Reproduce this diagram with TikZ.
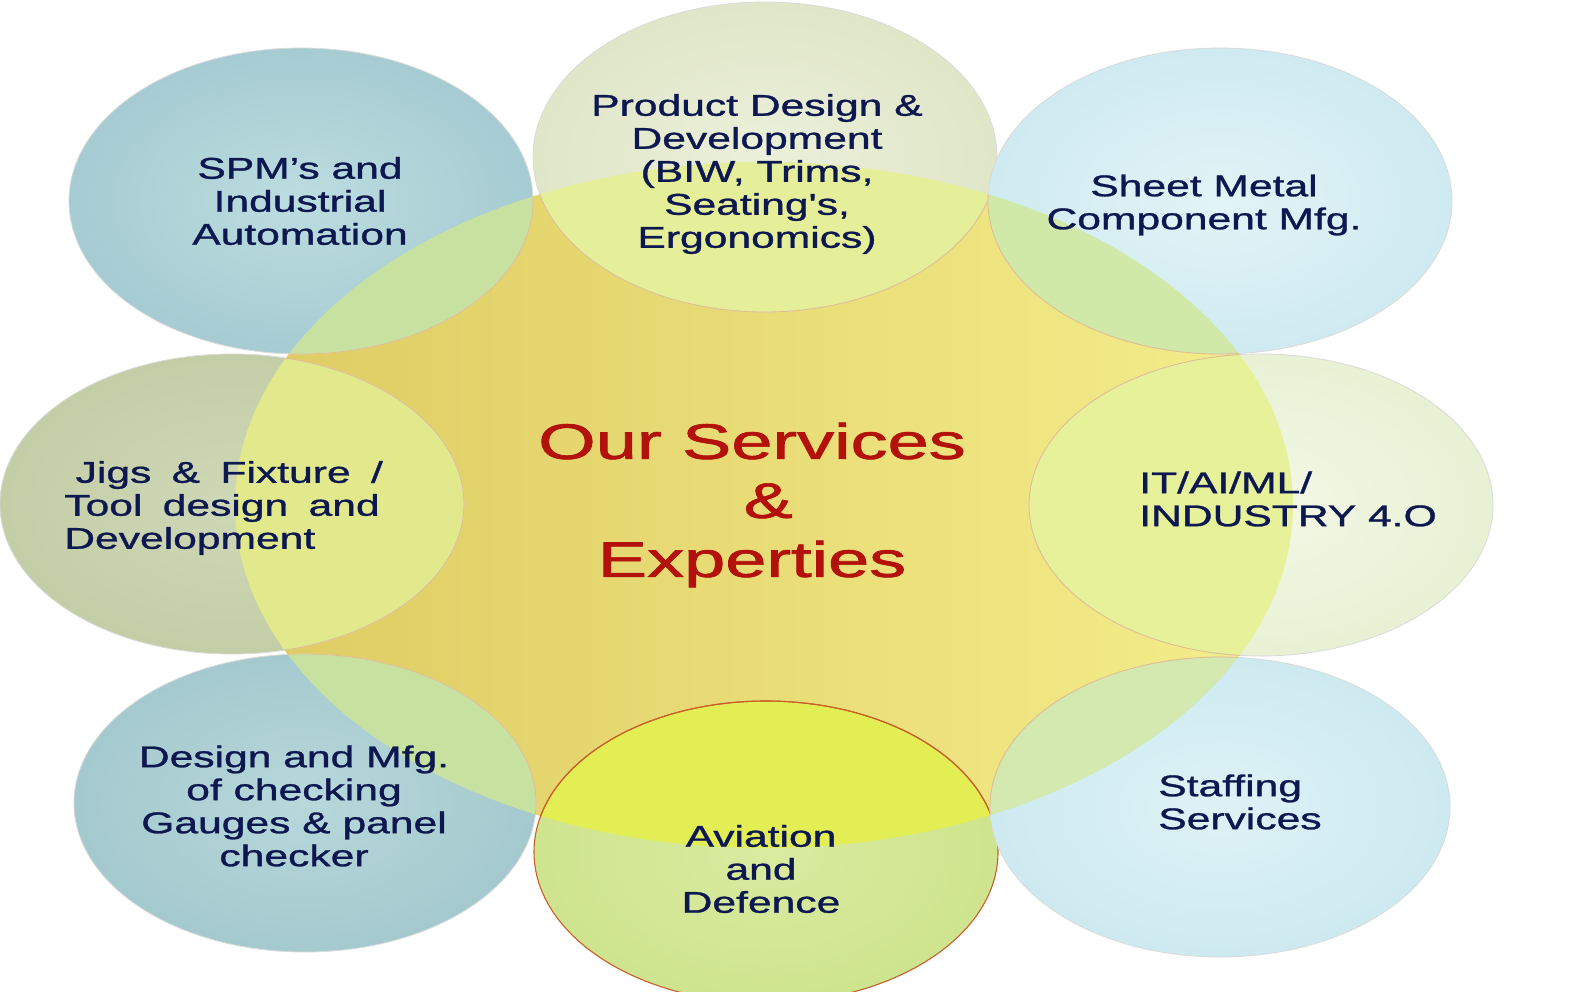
\documentclass[tikz,border=0pt]{standalone}
\usepackage{fontspec}
\setmainfont{Liberation Sans}
\newfontfamily\labfont{Liberation Sans}[FakeBold=0.9]
\newfontfamily\ttlfont{Liberation Sans}[FakeBold=1.2]
\usetikzlibrary{shapes.geometric}
\definecolor{navy}{HTML}{0E1850}
\definecolor{titlered}{HTML}{B2110C}
\definecolor{cenL}{HTML}{DECB62}
\definecolor{cenR}{HTML}{F4EE8C}
\definecolor{edgeIn}{HTML}{E2BE84}
\definecolor{edgeOut}{HTML}{DADADA}
\definecolor{aviEdge}{HTML}{C8602A}
\newcommand\mysat[9]{%
  % #1 x, #2 y, #3 rx, #4 ry, #5 inner, #6 outer, #7 overlap, #8 edge outside, #9 edge inside
  \definecolor{satIn}{HTML}{#5}\definecolor{satOut}{HTML}{#6}\definecolor{satOv}{HTML}{#7}%
  \shade[inner color=satIn, outer color=satOut] (#1,#2) ellipse [x radius=#3pt, y radius=#4pt];
  \begin{scope}
    \clip (#1,#2) ellipse [x radius=#3pt, y radius=#4pt];
    \fill[satOv] (764,505) ellipse [x radius=529pt, y radius=343pt];
  \end{scope}
  \draw[#8] (#1,#2) ellipse [x radius=#3pt, y radius=#4pt];
  \begin{scope}
    \clip (764,505) ellipse [x radius=529pt, y radius=343pt];
    \draw[#9] (#1,#2) ellipse [x radius=#3pt, y radius=#4pt];
  \end{scope}}
\begin{document}
\begin{tikzpicture}[x=1pt,y=-1pt,
  lab/.style={text=navy, font=\labfont\fontsize{30}{33}\selectfont, xscale=1.42, inner sep=0pt, align=center},
  labl/.style={lab, align=left, anchor=west},
  ttl/.style={text=titlered, font=\ttlfont\fontsize{50}{59}\selectfont, xscale=1.48, inner sep=0pt, align=center},
  eo/.style={draw=edgeOut, line width=0.8pt},
  ei/.style={draw=edgeIn, line width=0.8pt},
  ea/.style={draw=aviEdge, line width=1.1pt}]
\useasboundingbox (0,0) rectangle (1586,992);
\fill[white] (0,0) rectangle (1586,992);
% central ellipse
\shade[left color=cenL, right color=cenR] (764,505) ellipse [x radius=529pt, y radius=343pt];
% satellites
\mysat{301}{201}{232}{153}{BCDDE0}{A6CBD2}{C6E1A0}{eo}{ei}
\mysat{765}{157}{232}{155}{EBF0DA}{E0E6C8}{E5EE98}{eo}{ei}
\mysat{1220}{201}{232}{153}{E2F4F7}{CFEAF1}{D0E8A8}{eo}{ei}
\mysat{232}{504}{232}{150}{CFD8B6}{C3CDA6}{E1E98C}{eo}{ei}
\mysat{1261}{505}{232}{151}{F3F8E6}{E8F1D4}{E7F19A}{eo}{ei}
\mysat{305}{803}{231}{149}{B8D8DB}{A4C9CE}{C6E1A0}{eo}{ei}
\mysat{766}{852}{232}{151}{D9EBA0}{CFE48E}{E3EE55}{ea}{ea}
\mysat{1220}{807}{230}{150}{DEF2F6}{CDEAF0}{D3E9AF}{eo}{ei}
% labels
\node[ttl] (title) at (752,505) {Our Services\\\hspace*{22pt}\&\\Experties};
\node[lab] (spm) at (300,201) {SPM’s and\\Industrial\\Automation};
\node[lab] (prod) at (757,174) {Product Design \&\\Development\\(BIW, Trims,\\Seating\textquotesingle s,\\Ergonomics)};
\node[lab] (sheet) at (1204,205) {Sheet Metal\\Component Mfg.};
\node[labl] (jigs) at (64,508) {\hspace*{8pt}Jigs\hspace{6pt} \&\hspace{6pt} Fixture\hspace{6pt} /\\Tool\hspace{6pt} design\hspace{6pt} and\\Development};
\node[labl] (it) at (1139,499) {IT/AI/ML/\\INDUSTRY 4.O};
\node[lab] (gauge) at (294,806) {Design and Mfg.\\of checking\\Gauges \& panel\\checker};
\node[lab] (avi) at (761,869) {Aviation\\and\\Defence};
\node[labl] (staff) at (1158,802) {Staffing\\Services};
\end{tikzpicture}
\end{document}
